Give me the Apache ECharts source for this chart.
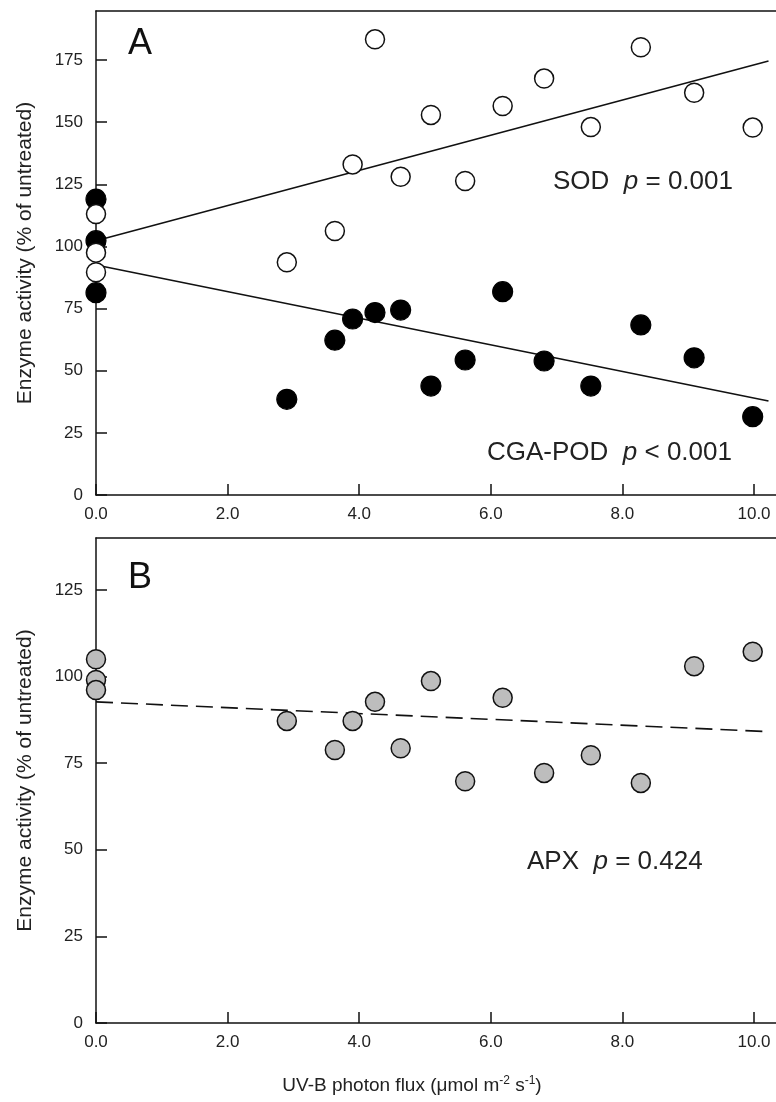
<!DOCTYPE html>
<html><head><meta charset="utf-8">
<script src="https://cdn.jsdelivr.net/npm/echarts@6/dist/echarts.min.js"></script>
<style>html,body{margin:0;padding:0;background:#fff}#c{width:776px;height:1102px}</style>
</head><body><div id="c"></div>
<script>
// UV-B photon flux (µmol m-2 s-1) of each sample
const uvb = [0, 0, 0, 2.90, 3.63, 3.90, 4.24, 4.63, 5.09, 5.61, 6.18, 6.81, 7.52, 8.28, 9.09, 9.98];
// Enzyme activity (% of untreated)
const sod    = [113.0, 97.5, 89.6, 93.6, 106.2, 133.0, 183.3, 128.0, 152.9, 126.3, 156.5, 167.5, 148.0, 180.1, 161.8, 147.8];
const cgaPod = [119.0, 102.3, 81.4, 38.5, 62.3, 70.8, 73.4, 74.4, 43.8, 54.3, 81.8, 53.9, 43.8, 68.4, 55.2, 31.5];
const apx    = [105.0, 99.0, 96.1, 87.2, 78.8, 87.2, 92.7, 79.3, 98.7, 69.8, 93.9, 72.2, 77.3, 69.3, 103.0, 107.2];
// regression line end points [x, y]
const sodFit = [[0, 102.3], [10.22, 174.6]];
const podFit = [[0, 92.5], [10.22, 37.8]];
const apxFit = [[0, 92.7], [10.22, 84.1]];
// tick labels
const xTicks = [0, 2, 4, 6, 8, 10];
const yTicksA = [0, 25, 50, 75, 100, 125, 150, 175];
const yTicksB = [0, 25, 50, 75, 100, 125];

const FONT = 'Liberation Sans, Arial, sans-serif';
const pair = (ys) => uvb.map((x, i) => [x, ys[i]]);

const chart = echarts.init(document.getElementById('c'), null, {renderer: 'canvas'});

function xAx(grid, withName) {
  return [{
    type: 'value', gridIndex: grid, min: 0, max: 10.334, position: 'bottom',
    axisLine: {show: true, onZero: false, lineStyle: {color: '#111', width: 1.5}},
    axisTick: {show: true, inside: true, length: 11, customValues: xTicks, lineStyle: {color: '#111', width: 1.5}},
    axisLabel: {show: true, customValues: xTicks, formatter: v => v.toFixed(1), fontSize: 17, color: '#222', fontFamily: FONT, margin: 11},
    splitLine: {show: false},
    name: withName ? 'UV-B photon flux (\u03bcmol m{sup|-2} s{sup|-1})' : '',
    nameLocation: 'middle', nameGap: 52,
    nameTextStyle: {fontSize: 19, color: '#222', fontFamily: FONT, lineHeight: 22, padding: [0, 48, 0, 0],
      rich: {sup: {fontSize: 12, color: '#222', fontFamily: FONT, verticalAlign: 'top', lineHeight: 22, padding: [0, 0, 8, 0]}}}
  }, {
    type: 'value', gridIndex: grid, min: 0, max: 10.334, position: 'top',
    axisLine: {show: true, onZero: false, lineStyle: {color: '#111', width: 1.5}},
    axisTick: {show: false}, axisLabel: {show: false}, splitLine: {show: false}
  }];
}
function yAx(grid, max, ticks) {
  return {
    type: 'value', gridIndex: grid, min: 0, max: max,
    axisLine: {show: true, onZero: false, lineStyle: {color: '#111', width: 1.5}},
    axisTick: {show: true, inside: true, length: 11, customValues: ticks, lineStyle: {color: '#111', width: 1.5}},
    axisLabel: {show: true, customValues: ticks, fontSize: 17, color: '#222', fontFamily: FONT, margin: 13},
    splitLine: {show: false},
    name: 'Enzyme activity (% of untreated)', nameLocation: 'middle', nameGap: 60, nameRotate: 90,
    nameTextStyle: {fontSize: 21, color: '#222', fontFamily: FONT}
  };
}

const ann = (x, y, text) => ({type: 'text', x: x, y: y, style: {text: text, fontSize: 26, fontFamily: FONT, fill: '#222', verticalAlign: 'middle',
  rich: {i: {fontStyle: 'italic', fontSize: 26, fontFamily: FONT, fill: '#222'}}}});

const option = {
  backgroundColor: '#fff',
  animation: false,
  grid: [
    {left: 96, right: 0, top: 11, height: 484},
    {left: 96, right: 0, top: 538, height: 485}
  ],
  xAxis: [...xAx(0, false), ...xAx(1, true)],
  yAxis: [yAx(0, 194.7, yTicksA), yAx(1, 140, yTicksB)],
  series: [
    {type: 'line', xAxisIndex: 0, yAxisIndex: 0, data: podFit, showSymbol: false, symbol: 'none',
     lineStyle: {color: '#111', width: 1.6}, z: 2},
    {type: 'line', xAxisIndex: 0, yAxisIndex: 0, data: sodFit, showSymbol: false, symbol: 'none',
     lineStyle: {color: '#111', width: 1.6}, z: 2},
    {name: 'CGA-POD', type: 'scatter', xAxisIndex: 0, yAxisIndex: 0, data: pair(cgaPod), symbolSize: 20, clip: false,
     itemStyle: {color: '#000', borderColor: '#000', borderWidth: 1.2, opacity: 1}, z: 3},
    {name: 'SOD', type: 'scatter', xAxisIndex: 0, yAxisIndex: 0, data: pair(sod), symbolSize: 19, clip: false,
     itemStyle: {color: '#fff', borderColor: '#111', borderWidth: 1.5, opacity: 1}, z: 4},
    {type: 'line', xAxisIndex: 2, yAxisIndex: 1, data: apxFit, showSymbol: false, symbol: 'none',
     lineStyle: {color: '#111', width: 1.6, type: [17, 8]}, z: 2},
    {name: 'APX', type: 'scatter', xAxisIndex: 2, yAxisIndex: 1, data: pair(apx), symbolSize: 19, clip: false,
     itemStyle: {color: '#bdbdbd', borderColor: '#111', borderWidth: 1.5, opacity: 1}, z: 3}
  ],
  graphic: [
    {type: 'text', x: 128, y: 44, style: {text: 'A', fontSize: 36, fontFamily: FONT, fill: '#111', verticalAlign: 'middle'}},
    {type: 'text', x: 128, y: 578, style: {text: 'B', fontSize: 36, fontFamily: FONT, fill: '#111', verticalAlign: 'middle'}},
    ann(553, 182, 'SOD  {i|p} = 0.001'),
    ann(487, 453, 'CGA-POD  {i|p} < 0.001'),
    ann(527, 862, 'APX  {i|p} = 0.424')
  ]
};
chart.setOption(option);
</script>
</body></html>
